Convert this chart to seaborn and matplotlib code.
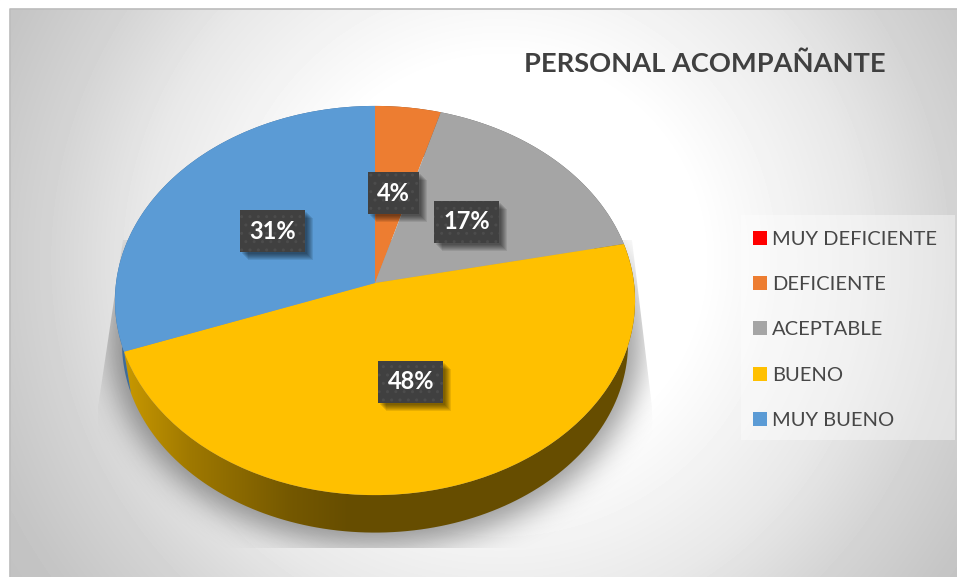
# PERSONAL ACOMPANANTE - 3D looking pie chart
import numpy as np
import matplotlib
matplotlib.use("Agg")
import matplotlib.pyplot as plt
import matplotlib.patheffects as pe
from matplotlib.patches import Polygon, Rectangle
from matplotlib.transforms import Affine2D, Transform
import seaborn as sns

# Data
categories = ["MUY DEFICIENTE", "DEFICIENTE", "ACEPTABLE", "BUENO", "MUY BUENO"]
values = [0.0, 4.45, 17.25, 47.7, 30.6]
colors = ["#FF0000", "#ED7D31", "#A5A5A5", "#FFC000", "#5B9BD5"]
wall_colors = ["#990000", "#8E4B1D", "#636363", "#664D00", "#3F6C99"]
title = "PERSONAL ACOMPAÑANTE"

# nudges for the percent labels, in pixels
label_nudge = [(0, 0), (2, -2), (3, 0), (0, 6), (-3, 0)]

W, H = 957, 577

sns.set_theme(style="white")
plt.rcParams["font.family"] = ["Lato", "DejaVu Sans"]
plt.rcParams["hatch.linewidth"] = 1.0


# Perspective view of the unit circle of the pie, result in pixels
class Tilt(Transform):
    input_dims = 2
    output_dims = 2

    def __init__(self, a, b, p, x0, y0):
        super().__init__()
        self.a, self.b, self.p, self.x0, self.y0 = a, b, p, x0, y0

    def transform_non_affine(self, xy):
        xy = np.asarray(xy, dtype=float)
        w = 1 + self.p * xy[:, 1]
        return np.column_stack([self.x0 + self.a * xy[:, 0] / w,
                                self.y0 - self.b * xy[:, 1] / w])


# Shadow for the label boxes, without the hatch of the box
class BoxShadow(pe.AbstractPathEffect):
    def __init__(self, d, alpha):
        super().__init__()
        self.d, self.alpha = d, alpha

    def draw_path(self, renderer, gc, tpath, affine, rgbFace):
        gc0 = renderer.new_gc()
        gc0.copy_properties(gc)
        gc0.set_hatch(None)
        gc0.set_alpha(self.alpha)
        gc0.set_linewidth(0)
        renderer.draw_path(gc0, tpath, affine + Affine2D().translate(self.d, -self.d),
                           (0, 0, 0))
        gc0.restore()


top_disc = Tilt(259, 193, 0.09, 375, 283)
low_disc = Tilt(252, 188, 0.09, 375, 326)

fig = plt.figure(figsize=(W / 100, H / 100), dpi=100)
ax = fig.add_axes([0, 0, 1, 1])
ax.axis("off")

# Background gradient
px, py = np.meshgrid(np.arange(W), np.arange(H))
dist = np.hypot(px - 500, py - 260)
grey = np.interp(dist, [200, 360, 450, 540, 600], [255, 232, 212, 197, 192])
ax.imshow(grey, cmap="gray", vmin=0, vmax=255, extent=(0, W, H, 0), zorder=0,
          aspect="auto")
ax.add_patch(Rectangle((0, 0), 9, H, color="white", zorder=0.1))
ax.add_patch(Rectangle((0, 0), W, 8, color="white", zorder=0.1))
ax.plot([9.5, 9.5, W], [H, 8.5, 8.5], color="#BBBBBB", lw=1.2, zorder=0.2)

# Soft shadow under the pie
shape = (((px - 375) / 266) ** 2 + ((py - 340) / 205) ** 2 < 1).astype(float)
kernel = np.exp(-0.5 * (np.arange(-45, 46) / 15) ** 2)
kernel = kernel / kernel.sum()
shape = np.apply_along_axis(lambda r: np.convolve(r, kernel, mode="same"), 0, shape)
shape = np.apply_along_axis(lambda r: np.convolve(r, kernel, mode="same"), 1, shape)
rgba = np.zeros((H, W, 4))
rgba[..., 3] = shape * 0.40
shadow = ax.imshow(rgba, extent=(0, W, H, 0), zorder=1, aspect="auto")
shadow.set_clip_path(Polygon([(123, 240), (632, 240), (652, 407), (655, 548),
                              (96, 548), (98, 407)], transform=ax.transData))

# Side wall of the pie, one band per slice
edges = np.cumsum([0] + values) / 100 * 2 * np.pi
for i in range(len(values)):
    if values[i] == 0:
        continue
    t = np.linspace(edges[i], edges[i + 1], 120)
    rim = np.column_stack([np.sin(t), np.cos(t)])
    band = np.vstack([top_disc.transform(rim), low_disc.transform(rim)[::-1]])
    if categories[i] == "BUENO":
        # wall gets darker to the right
        ramp = np.interp(np.arange(W), [125, 190, 290, 350], [0, 0.42, 0.85, 1.0])
        c0, c1 = np.array([200, 152, 0]), np.array([102, 77, 0])
        strip = (c0[None, :] + ramp[:, None] * (c1 - c0)[None, :]) / 255
        im = ax.imshow(strip[None, :, :], extent=(0, W, H, 0), zorder=2, aspect="auto")
        im.set_clip_path(Polygon(band, transform=ax.transData))
    else:
        ax.fill(band[:, 0], band[:, 1], color=wall_colors[i], lw=0, zorder=2)

# Top of the pie
wedges, _, autotexts = ax.pie(
    values, colors=colors, startangle=90, counterclock=False, frame=True,
    autopct=lambda v: "" if v == 0 else "%.0f%%" % v, pctdistance=0.48,
    textprops=dict(color="white", fontweight="bold", fontsize=17),
)
ax.set_aspect("auto")
tilt_data = top_disc + ax.transData
for w in wedges:
    w.set_transform(tilt_data)
    w.set_zorder(3)
    w.set_linewidth(0)

for txt, nudge in zip(autotexts, label_nudge):
    x, y = txt.get_position()
    txt.set_position(top_disc.transform(np.array([[x, y]]))[0] + nudge)
    txt.set_ha("center")
    txt.set_va("center")
    txt.set_zorder(5)
    if txt.get_text() == "":
        continue
    txt.set_bbox(dict(boxstyle="square,pad=0.40", facecolor="#404040",
                      edgecolor="#4C4C4C", hatch="..", linewidth=0))
    txt.get_bbox_patch().set_path_effects(
        [BoxShadow(d, 0.09) for d in (8, 7, 6, 5, 4, 3, 2)] + [pe.Normal()])

# Title
ax.text(524, 72, title, fontsize=19.6, fontweight="bold", color="#404040",
        ha="left", va="baseline", zorder=5)

# Legend, with its pale box behind it
ax.add_patch(Rectangle((741, 215), 214, 225, facecolor="white", alpha=0.4,
                       lw=0, zorder=3.5))
leg = ax.legend(
    wedges, categories, loc="upper left", bbox_to_anchor=(753 / W, 1 - 231 / H),
    bbox_transform=fig.transFigure, frameon=False, prop=dict(size=14.5),
    labelcolor="#474747", handlelength=0.69, handleheight=0.69, handletextpad=0.25,
    labelspacing=1.40, borderpad=0, borderaxespad=0,
)
leg.set_zorder(4)

ax.set_xlim(0, W)
ax.set_ylim(H, 0)
fig.savefig("out.png", dpi=100)
